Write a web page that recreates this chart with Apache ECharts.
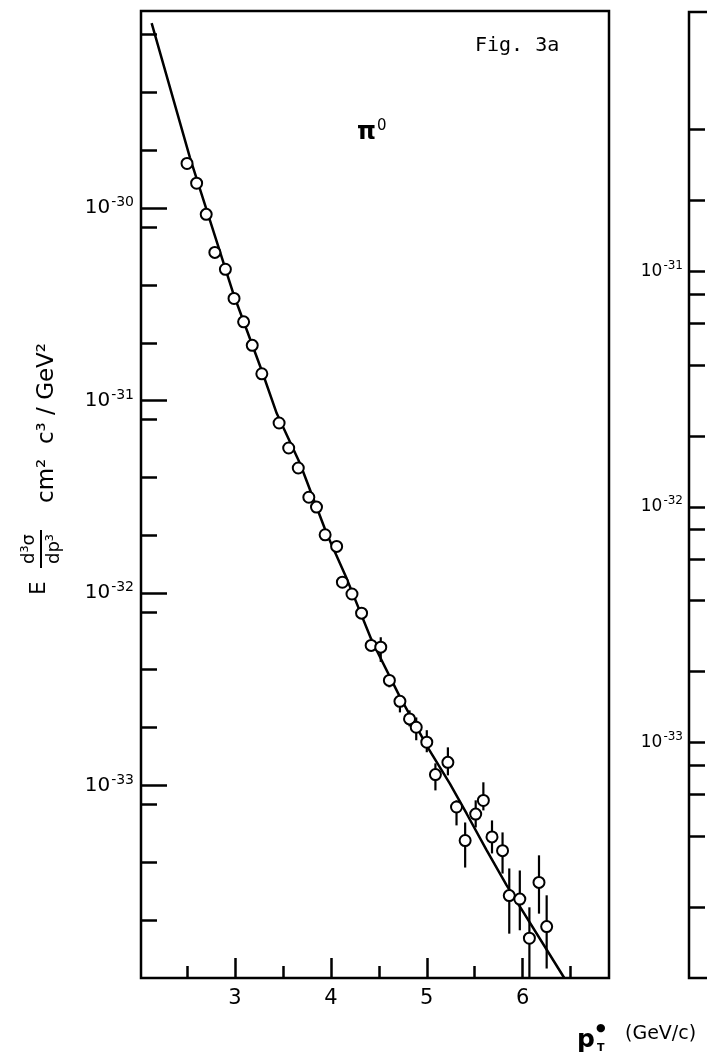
<!DOCTYPE html>
<html>
<head>
<meta charset="utf-8">
<title>Fig. 3a</title>
<script src="https://cdn.jsdelivr.net/npm/echarts@6.0.0/dist/echarts.min.js"></script>
<style>
html, body { margin: 0; padding: 0; background: #fff; }
#chart { width: 707px; height: 1062px; }
</style>
</head>
<body>
<div id="chart"></div>
<script>
// measured points, pT* in GeV/c
const ptValues = [2.50, 2.60, 2.70, 2.79, 2.90, 2.99, 3.09, 3.18, 3.28, 3.46, 3.56, 3.66, 3.77, 3.85,
    3.94, 4.06, 4.12, 4.22, 4.32, 4.42, 4.52, 4.61, 4.72, 4.82, 4.89, 5.00, 5.09, 5.22, 5.31, 5.40,
    5.51, 5.59, 5.68, 5.79, 5.86, 5.97, 6.07, 6.17, 6.25]
// E d3sigma/dp3 in cm2 c3 / GeV2
const xsecValues = [1.71e-30, 1.35e-30, 9.3e-31, 5.9e-31, 4.82e-31, 3.4e-31, 2.57e-31, 1.94e-31, 1.38e-31,
    7.66e-32, 5.68e-32, 4.47e-32, 3.15e-32, 2.80e-32, 2.01e-32, 1.75e-32, 1.14e-32, 9.9e-33, 7.87e-33,
    5.35e-33, 5.24e-33, 3.52e-33, 2.74e-33, 2.22e-33, 2.01e-33, 1.68e-33, 1.14e-33, 1.32e-33, 7.74e-34,
    5.18e-34, 7.11e-34, 8.37e-34, 5.41e-34, 4.59e-34, 2.68e-34, 2.57e-34, 1.61e-34, 3.14e-34, 1.85e-34]
// error bar ends (null: bar hidden inside the circle)
const errLow = [null, null, null, null, null, null, null, null, null, null, null, null, null, null,
    null, null, null, null, null, 5.05e-33, 4.39e-33, 3.24e-33, 2.40e-33, 2.03e-33, 1.72e-33, 1.49e-33,
    9.44e-34, 1.13e-33, 6.21e-34, 3.75e-34, 6.06e-34, 7.43e-34, 4.44e-34, 3.49e-34, 1.70e-34, 1.77e-34,
    1.0e-34, 2.16e-34, 1.12e-34]
const errHigh = [null, null, null, null, null, null, null, null, null, null, null, null, null, null,
    null, null, null, null, null, 5.83e-33, 5.90e-33, 3.79e-33, 2.87e-33, 2.46e-33, 2.26e-33, 1.94e-33,
    1.305e-33, 1.58e-33, 8.38e-34, 6.43e-34, 8.38e-34, 1.04e-33, 6.59e-34, 5.71e-34, 3.71e-34, 3.62e-34,
    2.33e-34, 4.34e-34, 2.69e-34]
// fitted curve
const fitPt = [2.131, 2.531, 2.982, 3.278, 3.435, 3.678, 3.956, 4.165, 4.425, 4.721, 5.016, 5.242,
    5.416, 5.625, 5.833, 6.434]
const fitXsec = [9.16e-30, 1.83e-30, 3.61e-31, 1.44e-31, 8.6e-32, 4.72e-32, 2.04e-32, 1.19e-32, 5.69e-33,
    2.88e-33, 1.56e-33, 1.02e-33, 7.14e-34, 4.60e-34, 3.03e-34, 1.0e-34]

const xMajorTicks = [3, 4, 5, 6]
const xMinorTicks = [2.5, 3.5, 4.5, 5.5, 6.5]
const yMajorTicks = [1e-33, 1e-32, 1e-31, 1e-30]
const yMinorTicks = [2e-34, 4e-34, 8e-34, 2e-33, 4e-33, 8e-33, 2e-32, 4e-32, 8e-32,
    2e-31, 4e-31, 8e-31, 2e-30, 4e-30, 8e-30]
// neighbouring panel (cut off at the right edge)
const rightMajorTicks = [1e-33, 1e-32, 1e-31]
const rightMinorTicks = [2e-34, 4e-34, 6e-34, 8e-34, 2e-33, 4e-33, 6e-33, 8e-33,
    2e-32, 4e-32, 6e-32, 8e-32, 2e-31, 4e-31]

const yMin = 1e-34
const yMax = 1.06e-29
const rightMax = 1.26e-30

const font = 'DejaVu Sans'
const black = '#000'

const chart = echarts.init(document.getElementById('chart'))

// tick axes for the log scale live in log10 space, on top of the log axis that holds the data
function tickAxis(grid, ticks, len, labels, extra) {
    return Object.assign({
        gridIndex: grid,
        axisLine: { show: false },
        splitLine: { show: false },
        axisTick: {
            inside: true,
            length: len,
            customValues: ticks,
            lineStyle: { color: black, width: 2.5 }
        },
        axisLabel: labels || { show: false }
    }, extra)
}

function powerLabel(ticks, size, margin) {
    return {
        customValues: ticks,
        margin: margin,
        color: black,
        formatter: v => '{b|10}{s|-' + Math.abs(Math.round(v)) + '}',
        rich: {
            b: { fontSize: size, fontFamily: font, color: black },
            s: { fontSize: Math.round(size * 0.68), fontFamily: font, color: black, padding: [0, 0, 11, 1] }
        }
    }
}

const lg = arr => arr.map(v => Math.log10(v))

chart.setOption({
    animation: false,
    backgroundColor: '#fff',
    grid: [
        { left: 141, top: 11, width: 468, height: 967, show: true, borderColor: black, borderWidth: 2.5 },
        { left: 689, top: 12, width: 200, height: 966, show: true, borderColor: black, borderWidth: 2.5 }
    ],
    xAxis: [
        tickAxis(0, xMajorTicks, 20, {
            customValues: xMajorTicks, margin: 10, fontSize: 21, fontFamily: font, color: black
        }, { type: 'value', min: 2.02, max: 6.9, position: 'bottom' }),
        tickAxis(0, xMinorTicks, 12, null, { type: 'value', min: 2.02, max: 6.9, position: 'bottom' }),
        { gridIndex: 1, type: 'value', min: 0, max: 1, show: false }
    ],
    yAxis: [
        { gridIndex: 0, type: 'log', min: yMin, max: yMax, position: 'left', show: false },
        tickAxis(0, lg(yMajorTicks), 26, powerLabel(lg(yMajorTicks), 20, 7),
            { type: 'value', min: Math.log10(yMin), max: Math.log10(yMax), position: 'left' }),
        tickAxis(0, lg(yMinorTicks), 16, null,
            { type: 'value', min: Math.log10(yMin), max: Math.log10(yMax), position: 'left' }),
        { gridIndex: 1, type: 'log', min: yMin, max: rightMax, position: 'left', show: false },
        tickAxis(1, lg(rightMajorTicks), 16, powerLabel(lg(rightMajorTicks), 17, 6),
            { type: 'value', min: Math.log10(yMin), max: Math.log10(rightMax), position: 'left' }),
        tickAxis(1, lg(rightMinorTicks), 16, null,
            { type: 'value', min: Math.log10(yMin), max: Math.log10(rightMax), position: 'left' })
    ],
    series: [
        {
            type: 'line',
            xAxisIndex: 0,
            yAxisIndex: 0,
            data: fitPt.map((x, i) => [x, fitXsec[i]]),
            symbol: 'none',
            lineStyle: { color: black, width: 2.5 },
            z: 2
        },
        {
            type: 'custom',
            xAxisIndex: 0,
            yAxisIndex: 0,
            data: ptValues.map((x, i) => [x, errLow[i], errHigh[i]]).filter(d => d[1] !== null),
            encode: { x: 0, y: [1, 2] },
            renderItem(params, api) {
                const a = api.coord([api.value(0), api.value(1)])
                const b = api.coord([api.value(0), api.value(2)])
                return {
                    type: 'line',
                    shape: { x1: a[0], y1: a[1], x2: b[0], y2: b[1] },
                    style: { stroke: black, lineWidth: 2.2 }
                }
            },
            z: 3
        },
        {
            type: 'scatter',
            xAxisIndex: 0,
            yAxisIndex: 0,
            data: ptValues.map((x, i) => [x, xsecValues[i]]),
            symbol: 'circle',
            symbolSize: 11,
            itemStyle: { color: '#fff', opacity: 1, borderColor: black, borderWidth: 2 },
            z: 4
        }
    ],
    graphic: [
        {
            type: 'text', left: 475, top: 36,
            style: { text: 'Fig. 3a', fontSize: 20, fontFamily: 'DejaVu Sans Mono', fill: black }
        },
        {
            type: 'text', x: 357, y: 119,
            style: {
                text: '{a|π}{b|0}', fill: black,
                rich: {
                    a: { fontSize: 24, fontFamily: font, fontWeight: 'bold', fill: black },
                    b: { fontSize: 15, fontFamily: font, fill: black, padding: [0, 0, 12, 1] }
                }
            }
        },
        // y axis title, reads bottom to top
        {
            type: 'group', x: 48, y: 465, rotation: Math.PI / 2,
            children: [
                { type: 'text', x: -123, y: -8, style: { text: 'E', fontSize: 21, fontFamily: font, fill: black, align: 'center', verticalAlign: 'middle' } },
                { type: 'text', x: -84, y: -19, style: { text: 'd³σ', fontSize: 18, fontFamily: font, fill: black, align: 'center', verticalAlign: 'middle' } },
                { type: 'line', shape: { x1: -103, y1: -7, x2: -65, y2: -7 }, style: { stroke: black, lineWidth: 2 } },
                { type: 'text', x: -84, y: 6, style: { text: 'dp³', fontSize: 18, fontFamily: font, fill: black, align: 'center', verticalAlign: 'middle' } },
                { type: 'text', x: -38, y: -1, style: { text: 'cm²  c³ / GeV²', fontSize: 23, fontFamily: font, fill: black, align: 'left', verticalAlign: 'middle' } }
            ]
        },
        // x axis title
        { type: 'text', x: 577, y: 1028, style: { text: 'p', fontSize: 25, fontFamily: font, fontWeight: 'bold', fill: black } },
        { type: 'text', x: 596, y: 1023, style: { text: '●', fontSize: 11, fontFamily: font, fill: black } },
        { type: 'text', x: 597, y: 1043, style: { text: 'T', fontSize: 11, fontFamily: font, fontWeight: 'bold', fill: black } },
        { type: 'text', x: 625, y: 1025, style: { text: '(GeV/c)', fontSize: 19, fontFamily: font, fill: black } }
    ]
})
</script>
</body>
</html>
